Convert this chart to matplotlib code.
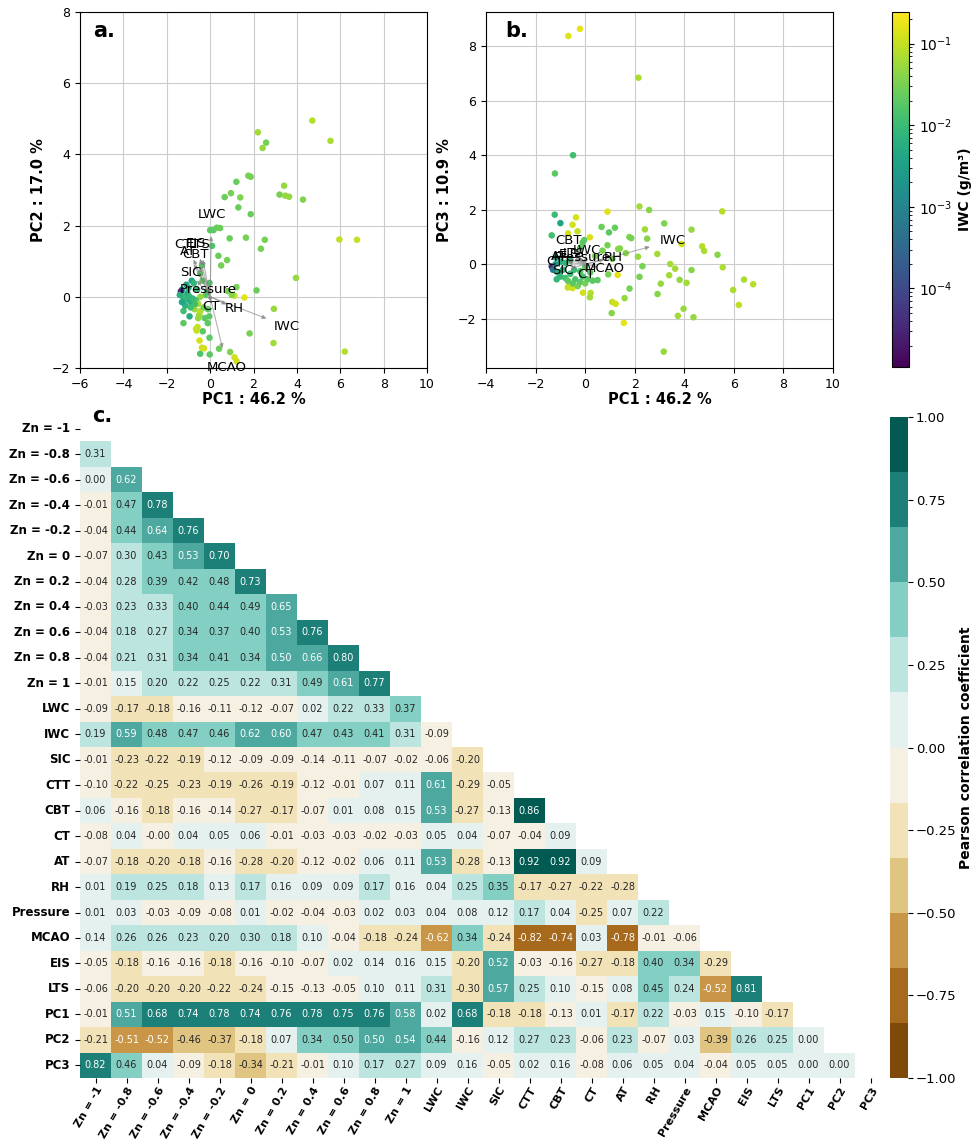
import numpy as np
import matplotlib
matplotlib.use("Agg")
import matplotlib.pyplot as plt
from matplotlib.colors import LogNorm
import seaborn as sns

# ---- PCA scores, panel a (PC1 vs PC2) ----
pc1_a = [4.71, 5.55, 2.20, 2.58, 2.42, 1.76, 1.87, 1.21, 3.41, 3.20, 3.46, 3.64, 4.28, 0.96, 0.67,
         1.39, 1.30, 1.87, 5.96, 6.77, 1.65, 2.52, 0.90, 2.34, 0.00, 0.15, 0.31, 0.46, 0.09, 0.38,
         0.78, 0.51, 3.96, 1.21, 2.14, 1.58, 1.12, 2.94, 1.82, 2.92, 6.21, 0.92, 1.12, 1.22, 0.41,
         -0.02, -0.46, -0.28, -0.38, -0.49, -0.03, -0.34, -0.58, -0.65, -0.62, -1.23, -0.11, -0.95, -1.23, -0.38,
         -0.46, -0.03, 0.80, 1.00, -1.10, -1.30, -1.35, -0.85, -0.75, -0.35, -0.20, -0.45, -0.65, -0.90, -1.10,
         -1.25, -0.72, -0.50, -0.90, -0.25, -1.20, -0.04, -0.45, -0.55, -1.40, -1.00, -0.60, -0.15, -0.80, -1.15,
         -0.30, -0.70, -1.05, -0.55, -0.10, -1.30, -0.95]
pc2_a = [4.95, 4.38, 4.62, 4.33, 4.18, 3.40, 3.37, 3.23, 3.12, 2.87, 2.84, 2.81, 2.73, 2.91, 2.80,
         2.79, 2.51, 2.32, 1.61, 1.60, 1.66, 1.60, 1.64, 1.35, 1.87, 1.87, 1.94, 1.93, 1.43, 1.15,
         1.03, 0.88, 0.53, 0.27, 0.18, -0.02, 0.03, -0.34, -1.03, -1.30, -1.54, -1.55, -1.70, -1.81, -1.46,
         -1.62, -1.60, -1.45, -1.43, -1.23, -1.15, -0.97, -0.85, -0.90, -0.95, -0.74, -0.74, -0.55, -0.40, 0.88,
         0.65, 0.39, 0.16, 0.05, 0.34, 0.20, 0.15, 0.45, 0.38, 0.45, 0.05, 0.00, -0.10, -0.15, -0.07,
         0.00, -0.35, -0.50, -0.30, -0.60, -0.10, -0.55, -0.40, -0.20, 0.05, 0.25, 0.20, 0.15, -0.05, -0.25,
         -0.30, -0.20, 0.10, -0.60, -0.35, -0.15, 0.00]
iwc_a = [0.08, 0.07, 0.06, 0.03, 0.05, 0.03, 0.03, 0.025, 0.05, 0.03, 0.05, 0.05, 0.035, 0.03, 0.025,
         0.035, 0.025, 0.025, 0.09, 0.1, 0.03, 0.03, 0.025, 0.03, 0.02, 0.02, 0.025, 0.025, 0.015, 0.025,
         0.03, 0.03, 0.05, 0.03, 0.025, 0.15, 0.12, 0.05, 0.03, 0.06, 0.08, 0.035, 0.12, 0.12, 0.025,
         0.02, 0.015, 0.12, 0.12, 0.13, 0.02, 0.02, 0.1, 0.1, 0.1, 0.02, 0.02, 0.005, 0.012, 0.02,
         0.02, 0.015, 0.03, 0.04, 0.004, 0.003, 3e-5, 0.004, 0.008, 0.02, 0.02, 0.05, 0.015, 0.006, 0.004,
         0.01, 0.05, 0.06, 0.012, 0.02, 0.008, 0.02, 0.08, 0.07, 0.006, 0.006, 0.01, 0.015, 0.01, 0.007,
         0.03, 0.012, 0.005, 0.05, 0.02, 0.004, 0.008]

# ---- PCA scores, panel b (PC1 vs PC3) ----
pc1_b = [-0.68, -0.21, 2.15, -0.49, -1.22, -1.23, -1.00, -1.35, -0.37, -0.51, -0.69, -0.31, 0.19, -0.04, 0.90,
         2.19, 2.58, 0.66, 1.20, 0.96, 3.19, 4.29, 2.41, 1.78, 1.86, 2.50, 1.33, 1.40, 1.64, 2.91,
         2.13, 2.31, 2.19, 1.79, 1.59, 1.09, 1.23, 1.07, 1.56, 2.92, 3.05, 3.43, 3.63, 3.39, 3.81,
         4.09, 4.29, 3.89, 3.97, 3.74, 4.37, 3.17, 4.72, 4.80, 5.34, 5.53, 5.55, 5.97, 6.41, 6.78,
         6.20, -0.09, 0.22, 0.19, -0.51, -0.65, 1.31, 0.93, -1.35, -1.30, -1.20, -1.10, -1.00, -0.90, -0.80,
         -0.70, -0.60, -0.50, -0.40, -0.30, -0.20, -0.10, 0.00, 0.10, 0.30, 0.50, -0.45, -0.20, 0.00, 0.20,
         -1.20, -1.00, -0.80, -0.60, 0.40, 0.70, 0.90, 1.10, -0.10, -0.20, -1.15, -0.70]
pc3_b = [8.37, 8.63, 6.84, 4.00, 3.33, 1.82, 1.51, 1.06, 1.72, 1.45, 1.13, 1.21, 0.99, 0.89, 1.93,
         2.12, 1.99, 1.37, 1.34, 1.17, 1.50, 1.27, 1.28, 1.00, 0.96, 0.94, 0.56, 0.58, 0.41, 0.38,
         0.28, -0.07, -0.46, -0.89, -1.24, -1.38, -1.45, -1.79, -2.15, -1.09, -0.71, 0.01, -0.16, -0.40, -0.57,
         -0.68, -0.21, 0.74, -1.63, -1.89, -1.94, -3.20, 0.66, 0.49, 0.35, 1.94, -0.11, -0.94, -0.56, -0.73,
         -1.49, -1.04, -1.05, -1.21, -0.87, -0.78, -0.39, -0.37, -0.08, -0.20, 0.00, -0.30, -0.45, -0.20, -0.50,
         -0.60, -0.35, -0.70, -0.55, -0.80, -0.65, -0.45, -0.70, -0.55, -0.60, -0.58, -0.20, -0.25, -0.10, -0.30,
         0.25, 0.10, 0.05, 0.15, 0.30, 0.50, 0.70, 0.20, 0.80, 0.60, -0.55, -0.85]
iwc_b = [0.15, 0.16, 0.07, 0.012, 0.02, 0.01, 0.004, 0.012, 0.13, 0.12, 0.12, 0.1, 0.13, 0.02, 0.15,
         0.06, 0.04, 0.025, 0.025, 0.02, 0.035, 0.05, 0.06, 0.04, 0.03, 0.04, 0.04, 0.04, 0.04, 0.06,
         0.05, 0.03, 0.03, 0.03, 0.05, 0.1, 0.12, 0.04, 0.16, 0.04, 0.05, 0.06, 0.06, 0.06, 0.05,
         0.06, 0.04, 0.12, 0.05, 0.06, 0.05, 0.05, 0.08, 0.07, 0.04, 0.08, 0.07, 0.07, 0.07, 0.08,
         0.09, 0.12, 0.08, 0.06, 0.12, 0.1, 0.15, 0.03, 3e-5, 0.0005, 0.002, 0.005, 0.008, 0.006, 0.012,
         0.02, 0.01, 0.02, 0.015, 0.03, 0.02, 0.012, 0.03, 0.02, 0.02, 0.02, 0.01, 0.015, 0.02, 0.02,
         0.004, 0.005, 0.008, 0.01, 0.03, 0.03, 0.03, 0.03, 0.02, 0.02, 0.008, 0.1]

# ---- loadings (scaled) for the biplot arrows ----
load_vars = ["LWC", "IWC", "SIC", "CTT", "CBT", "CT", "AT", "RH", "Pressure", "MCAO", "EIS", "LTS"]
load_pc1 = [0.05, 2.72, -0.69, -0.82, -0.53, 0.03, -0.80, 0.87, -0.08, 0.60, -0.50, -0.36]
load_pc2 = [1.78, -0.64, 0.52, 1.12, 0.92, -0.22, 0.98, -0.25, 0.16, -1.52, 1.15, 1.12]
load_pc3 = [0.40, 0.67, -0.18, 0.08, 0.67, -0.29, 0.22, 0.20, 0.18, -0.13, 0.28, 0.30]

# ---- correlation matrix (lower triangle, row by row) ----
corr_labels = ["Zn = -1", "Zn = -0.8", "Zn = -0.6", "Zn = -0.4", "Zn = -0.2", "Zn = 0", "Zn = 0.2",
               "Zn = 0.4", "Zn = 0.6", "Zn = 0.8", "Zn = 1", "LWC", "IWC", "SIC", "CTT", "CBT", "CT",
               "AT", "RH", "Pressure", "MCAO", "EIS", "LTS", "PC1", "PC2", "PC3"]
corr_rows = [
    [],
    [0.31],
    [0.00, 0.62],
    [-0.01, 0.47, 0.78],
    [-0.04, 0.44, 0.64, 0.76],
    [-0.07, 0.30, 0.43, 0.53, 0.70],
    [-0.04, 0.28, 0.39, 0.42, 0.48, 0.73],
    [-0.03, 0.23, 0.33, 0.40, 0.44, 0.49, 0.65],
    [-0.04, 0.18, 0.27, 0.34, 0.37, 0.40, 0.53, 0.76],
    [-0.04, 0.21, 0.31, 0.34, 0.41, 0.34, 0.50, 0.66, 0.80],
    [-0.01, 0.15, 0.20, 0.22, 0.25, 0.22, 0.31, 0.49, 0.61, 0.77],
    [-0.09, -0.17, -0.18, -0.16, -0.11, -0.12, -0.07, 0.02, 0.22, 0.33, 0.37],
    [0.19, 0.59, 0.48, 0.47, 0.46, 0.62, 0.60, 0.47, 0.43, 0.41, 0.31, -0.09],
    [-0.01, -0.23, -0.22, -0.19, -0.12, -0.09, -0.09, -0.14, -0.11, -0.07, -0.02, -0.06, -0.20],
    [-0.10, -0.22, -0.25, -0.23, -0.19, -0.26, -0.19, -0.12, -0.01, 0.07, 0.11, 0.61, -0.29, -0.05],
    [0.06, -0.16, -0.18, -0.16, -0.14, -0.27, -0.17, -0.07, 0.01, 0.08, 0.15, 0.53, -0.27, -0.13, 0.86],
    [-0.08, 0.04, -0.004, 0.04, 0.05, 0.06, -0.01, -0.03, -0.03, -0.02, -0.03, 0.05, 0.04, -0.07, -0.04, 0.09],
    [-0.07, -0.18, -0.20, -0.18, -0.16, -0.28, -0.20, -0.12, -0.02, 0.06, 0.11, 0.53, -0.28, -0.13, 0.92, 0.92,
     0.09],
    [0.01, 0.19, 0.25, 0.18, 0.13, 0.17, 0.16, 0.09, 0.09, 0.17, 0.16, 0.04, 0.25, 0.35, -0.17, -0.27, -0.22,
     -0.28],
    [0.01, 0.03, -0.03, -0.09, -0.08, 0.01, -0.02, -0.04, -0.03, 0.02, 0.03, 0.04, 0.08, 0.12, 0.17, 0.04,
     -0.25, 0.07, 0.22],
    [0.14, 0.26, 0.26, 0.23, 0.20, 0.30, 0.18, 0.10, -0.04, -0.18, -0.24, -0.62, 0.34, -0.24, -0.82, -0.74,
     0.03, -0.78, -0.01, -0.06],
    [-0.05, -0.18, -0.16, -0.16, -0.18, -0.16, -0.10, -0.07, 0.02, 0.14, 0.16, 0.15, -0.20, 0.52, -0.03, -0.16,
     -0.27, -0.18, 0.40, 0.34, -0.29],
    [-0.06, -0.20, -0.20, -0.20, -0.22, -0.24, -0.15, -0.13, -0.05, 0.10, 0.11, 0.31, -0.30, 0.57, 0.25, 0.10,
     -0.15, 0.08, 0.45, 0.24, -0.52, 0.81],
    [-0.01, 0.51, 0.68, 0.74, 0.78, 0.74, 0.76, 0.78, 0.75, 0.76, 0.58, 0.02, 0.68, -0.18, -0.18, -0.13,
     0.01, -0.17, 0.22, -0.03, 0.15, -0.10, -0.17],
    [-0.21, -0.51, -0.52, -0.46, -0.37, -0.18, 0.07, 0.34, 0.498, 0.50, 0.54, 0.44, -0.16, 0.12, 0.27, 0.23,
     -0.06, 0.23, -0.07, 0.03, -0.39, 0.26, 0.25, 0.00],
    [0.82, 0.46, 0.04, -0.09, -0.18, -0.34, -0.21, -0.01, 0.10, 0.17, 0.27, 0.09, 0.16, -0.05, 0.02, 0.16,
     -0.08, 0.06, 0.05, 0.04, -0.04, 0.05, 0.05, 0.00, 0.00],
]

n = len(corr_labels)
corr = np.zeros((n, n))
for i, row in enumerate(corr_rows):
    corr[i, :len(row)] = row
mask = np.triu(np.ones((n, n), dtype=bool))

fig = plt.figure(figsize=(9.76, 11.41), dpi=100)
ax_a = fig.add_axes([0.082, 0.6775, 0.3555, 0.312])
ax_b = fig.add_axes([0.498, 0.6775, 0.3555, 0.312])
cax_iwc = fig.add_axes([0.9136, 0.6786, 0.018, 0.311])
ax_c = fig.add_axes([0.082, 0.0552, 0.8258, 0.5802])
cax_c = fig.add_axes([0.912, 0.0552, 0.0184, 0.5793])

norm = LogNorm(vmin=1.1e-5, vmax=0.245)
lab_scale = 1.3


def biplot(ax, xs, ys, cs, lx, ly):
    sc = ax.scatter(xs, ys, c=cs, cmap="viridis", norm=norm, s=22, edgecolors="none", zorder=2)
    for name, dx, dy in zip(load_vars, lx, ly):
        ax.annotate("", xy=(dx, dy), xytext=(0, 0),
                    arrowprops=dict(arrowstyle="-|>", color="gray", alpha=0.6, lw=0.8,
                                    mutation_scale=6), zorder=3)
        ax.text(dx * lab_scale, dy * lab_scale, name, ha="center", va="center",
                fontsize=9.5, zorder=4)
    ax.grid(True, color="#cccccc", lw=0.8, zorder=0)
    ax.set_axisbelow(True)
    ax.tick_params(labelsize=9)
    return sc


sc = biplot(ax_a, pc1_a, pc2_a, iwc_a, load_pc1, load_pc2)
ax_a.set_xlim(-6, 10)
ax_a.set_ylim(-2, 8)
ax_a.set_xlabel("PC1 : 46.2 %", fontsize=10.5, fontweight="bold", labelpad=1)
ax_a.set_ylabel("PC2 : 17.0 %", fontsize=10.5, fontweight="bold", labelpad=4)
ax_a.text(0.037, 0.975, "a.", transform=ax_a.transAxes, fontsize=15, fontweight="bold", va="top")

biplot(ax_b, pc1_b, pc3_b, iwc_b, load_pc1, load_pc3)
ax_b.set_xlim(-4, 10)
ax_b.set_ylim(-3.8, 9.25)
ax_b.set_xlabel("PC1 : 46.2 %", fontsize=10.5, fontweight="bold", labelpad=1)
ax_b.set_ylabel("PC3 : 10.9 %", fontsize=10.5, fontweight="bold", labelpad=4)
ax_b.text(0.055, 0.975, "b.", transform=ax_b.transAxes, fontsize=15, fontweight="bold", va="top")

cb = fig.colorbar(sc, cax=cax_iwc)
cb.set_label("IWC (g/m³)", fontsize=10, fontweight="bold")
cb.ax.tick_params(labelsize=10)

# ---- correlation heatmap ----
cmap = matplotlib.colors.ListedColormap(sns.color_palette("BrBG", 12))
sns.heatmap(corr, mask=mask, cmap=cmap, vmin=-1, vmax=1, annot=True, fmt=".2f",
            annot_kws={"size": 7}, xticklabels=corr_labels, yticklabels=corr_labels,
            ax=ax_c, cbar_ax=cax_c)
ax_c.set_xticklabels(corr_labels, rotation=60, ha="right", rotation_mode="anchor",
                     fontsize=8, fontweight="bold")
ax_c.set_yticklabels(corr_labels, rotation=0, fontsize=8.5, fontweight="bold")
ax_c.tick_params(axis="x", pad=1.5)
cbar = ax_c.collections[0].colorbar
cbar.set_ticks([-1, -0.75, -0.5, -0.25, 0, 0.25, 0.5, 0.75, 1])
cbar.set_ticklabels(["\u22121.00", "\u22120.75", "\u22120.50", "\u22120.25", "0.00", "0.25", "0.50", "0.75", "1.00"])
cbar.ax.tick_params(labelsize=9.5, pad=2)
cbar.set_label("Pearson correlation coefficient", fontsize=10, fontweight="bold", labelpad=2)
fig.text(0.0946, 0.6355, "c.", fontsize=15, fontweight="bold", va="center")

fig.savefig("out.png", dpi=100)
